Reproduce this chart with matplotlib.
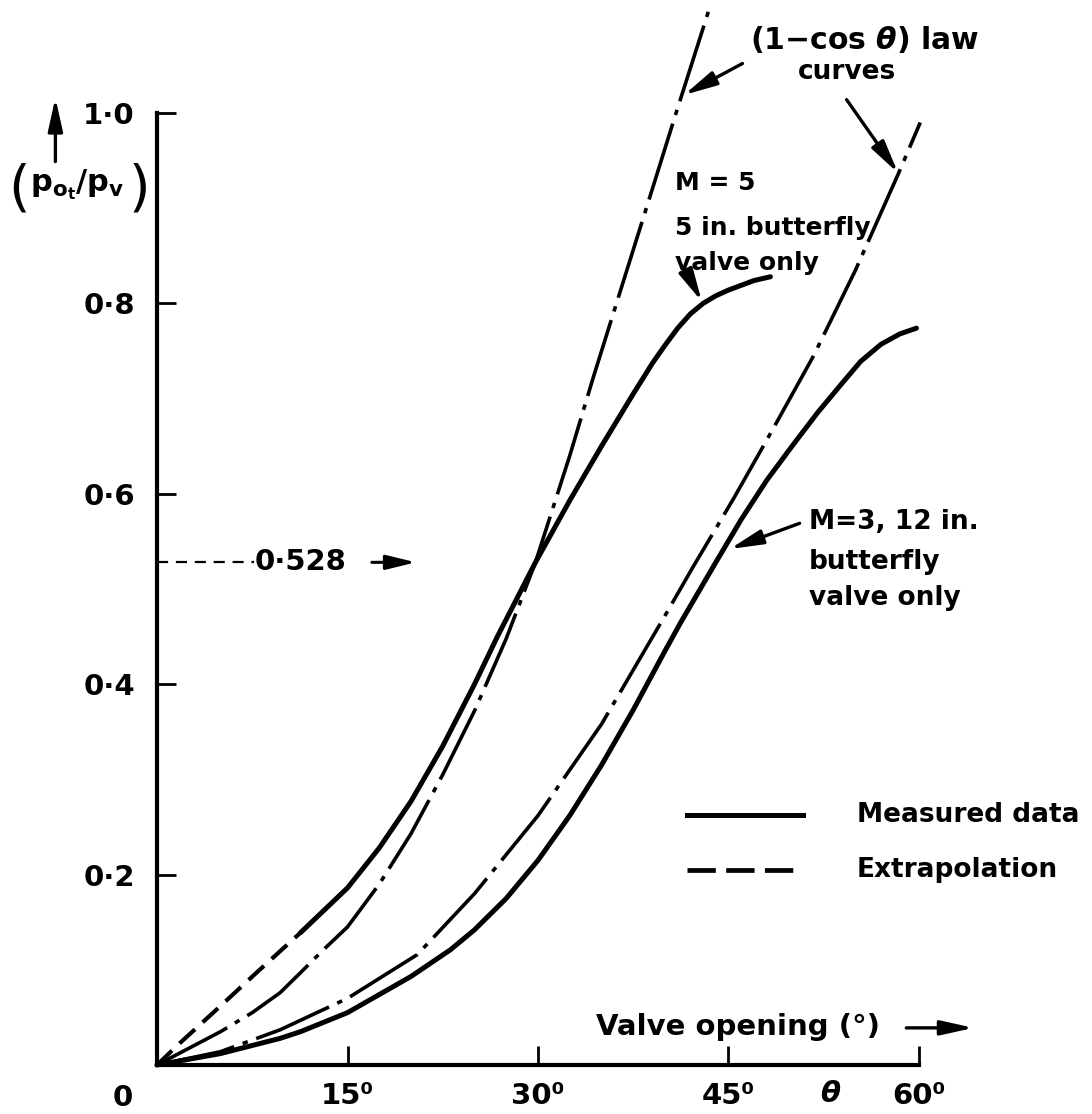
import matplotlib
matplotlib.use("Agg")
import matplotlib.pyplot as plt

plt.rcParams['font.family'] = ['DejaVu Sans']
plt.rcParams['font.weight'] = 'bold'
plt.rcParams['mathtext.fontset'] = 'dejavusans'
plt.rcParams['mathtext.default'] = 'bf'

# Valve opening (deg) and total-pressure ratio p_ot/p_v
theta_m5_extrap = [0, 1.8, 5, 8, 11.3]
p_m5_extrap = [0, 0.023, 0.062, 0.099, 0.139]

theta_m5 = [11.3, 15, 17.5, 20, 22.5, 25, 26.8, 29.8, 32.5, 35, 37.5, 38.3, 39, 40, 41, 42,
            43, 44, 45, 46, 47, 48.3]
p_m5 = [0.139, 0.186, 0.228, 0.277, 0.335, 0.40, 0.45, 0.528, 0.593, 0.65, 0.705, 0.722,
        0.737, 0.756, 0.774, 0.789, 0.800, 0.808, 0.814, 0.819, 0.824, 0.828]

theta_law5 = [0, 5, 7.5, 9.7, 11.3, 13.1, 15, 17.5, 20, 22.5, 25, 27.5, 29.8, 32.5, 34.3, 37,
              39, 40.8, 43.5]
p_law5 = [0, 0.035, 0.055, 0.076, 0.097, 0.121, 0.145, 0.19, 0.243, 0.305, 0.372, 0.448,
          0.528, 0.64, 0.72, 0.835, 0.92, 0.997, 1.11]

theta_m3 = [0, 5, 9.7, 11.3, 15, 20, 23.1, 25, 27.5, 30, 32.5, 35, 37.5, 40, 41.2, 44, 46,
            48, 50, 52, 54, 55.4, 57, 58.5, 59.8]
p_m3 = [0, 0.012, 0.028, 0.035, 0.055, 0.093, 0.121, 0.142, 0.175, 0.215, 0.262, 0.315,
        0.373, 0.435, 0.464, 0.528, 0.573, 0.614, 0.65, 0.685, 0.717, 0.739, 0.757, 0.768,
        0.774]

theta_law3 = [0, 5, 9.7, 15, 20.5, 25, 30, 35, 40, 42.2, 45.4, 48.5, 51.7, 55, 58.4, 60.1]
p_law3 = [0, 0.014, 0.037, 0.07, 0.116, 0.18, 0.262, 0.358, 0.472, 0.523, 0.595, 0.668,
          0.745, 0.835, 0.937, 0.99]

critical_ratio = 0.528

x_ticks = [15, 30, 45, 60]
x_tick_labels = ["15\u2070", "30\u2070", "45\u2070", "60\u2070"]
y_ticks = [0.2, 0.4, 0.6, 0.8, 1.0]
y_tick_labels = ["0\u00b72", "0\u00b74", "0\u00b76", "0\u00b78", "1\u00b70"]

fig = plt.figure(figsize=(10.92, 11.14), dpi=100)
ax = fig.add_axes([157 / 1092, 49 / 1114, 762 / 1092, 952 / 1114])
ax.set_xlim(0, 60)
ax.set_ylim(0, 1)

for side in ("top", "right"):
    ax.spines[side].set_visible(False)
for side in ("left", "bottom"):
    ax.spines[side].set_linewidth(3)

ax.set_xticks(x_ticks)
ax.set_xticklabels(x_tick_labels)
ax.set_yticks(y_ticks)
ax.set_yticklabels(y_tick_labels)
ax.tick_params(axis='both', direction='in', length=14, width=2, labelsize=21)
ax.tick_params(axis='x', pad=12)
ax.tick_params(axis='y', pad=16)

lw_solid = 3.6
lw_law = 2.6
law_dash = (0, (22, 2.5, 1.5, 2.5))

# (1 - cos theta) law curves
ax.plot(theta_law5, p_law5, color='black', lw=lw_law, linestyle=law_dash,
        dash_capstyle='butt', clip_on=False)
ax.plot(theta_law3, p_law3, color='black', lw=lw_law, linestyle=law_dash,
        dash_capstyle='butt', clip_on=False)

# Measured curves and extrapolation
ax.plot(theta_m5_extrap, p_m5_extrap, color='black', lw=3.0, linestyle=(0, (5, 2.5)),
        clip_on=False)
ax.plot(theta_m5, p_m5, color='black', lw=lw_solid, solid_capstyle='round',
        solid_joinstyle='round', clip_on=False)
ax.plot(theta_m3, p_m3, color='black', lw=lw_solid, solid_capstyle='round',
        solid_joinstyle='round', clip_on=False)

# Critical pressure ratio marker
ax.plot([0, 7.6], [critical_ratio, critical_ratio], color='black', lw=1.6,
        linestyle=(0, (5, 3.5)), clip_on=False)
ax.text(7.7, critical_ratio, "0\u00b7528", fontsize=21, ha='left', va='center')
ax.annotate("", xy=(20.6, critical_ratio), xytext=(16.7, critical_ratio),
            arrowprops=dict(arrowstyle='-|>,head_length=0.9,head_width=0.22',
                            color='black', lw=2.2, mutation_scale=20),
            annotation_clip=False)

arrow_kw = dict(arrowstyle='-|>,head_length=0.9,head_width=0.2', color='black', lw=2.4,
                mutation_scale=22, shrinkA=0, shrinkB=0)

# Law curve labels
ax.text(46.7, 1.077, r"(1$-$cos $\mathit{\theta}$) law", fontsize=21.5, ha='left',
        va='center')
ax.text(54.3, 1.043, "curves", fontsize=19, ha='center', va='center')
ax.annotate("", xy=(41.5, 1.019), xytext=(46.1, 1.052), arrowprops=arrow_kw,
            annotation_clip=False)
ax.annotate("", xy=(58.35, 0.937), xytext=(54.3, 1.014), arrowprops=arrow_kw,
            annotation_clip=False)

# M = 5 label
ax.text(40.8, 0.926, "M = 5", fontsize=18, ha='left', va='center')
ax.text(40.8, 0.879, "5 in. butterfly", fontsize=18, ha='left', va='center')
ax.text(40.8, 0.842, "valve only", fontsize=18, ha='left', va='center')
ax.annotate("", xy=(42.9, 0.802), xytext=(41.8, 0.830), arrowprops=arrow_kw,
            annotation_clip=False)

# M = 3 label
ax.text(51.3, 0.570, "M=3, 12 in.", fontsize=19, ha='left', va='center')
ax.text(51.3, 0.528, "butterfly", fontsize=19, ha='left', va='center')
ax.text(51.3, 0.491, "valve only", fontsize=19, ha='left', va='center')
ax.annotate("", xy=(45.1, 0.542), xytext=(50.6, 0.569), arrowprops=arrow_kw,
            annotation_clip=False)

# Key
ax.plot([41.7, 50.9], [0.263, 0.263], color='black', lw=lw_solid, clip_on=False)
ax.plot([41.7, 50.9], [0.205, 0.205], color='black', lw=3.4, linestyle=(0, (6, 2.2)),
        clip_on=False)
ax.text(55.1, 0.263, "Measured data", fontsize=19, ha='left', va='center')
ax.text(55.1, 0.205, "Extrapolation", fontsize=19, ha='left', va='center')

# Axis labels
ax.text(34.6, 0.040, "Valve opening (\u00b0)", fontsize=21, ha='left', va='center')
ax.annotate("", xy=(64.3, 0.039), xytext=(59.0, 0.039), arrowprops=arrow_kw,
            annotation_clip=False)
ax.text(-2.7, -0.035, "0", fontsize=21, ha='center', va='center')
ax.text(53.0, -0.030, "\u03b8", fontsize=21, ha='center', va='center', style='italic')

ax.text(-10.9, 0.92, "(", fontsize=40, fontweight='normal', ha='center', va='center')
ax.text(-6.3, 0.925, r"$p_{o_t}/p_v$", fontsize=22, ha='center', va='center')
ax.text(-1.4, 0.92, ")", fontsize=40, fontweight='normal', ha='center', va='center')
ax.annotate("", xy=(-8.0, 1.016), xytext=(-8.0, 0.949), arrowprops=arrow_kw,
            annotation_clip=False)

fig.savefig("out.png", dpi=100)
